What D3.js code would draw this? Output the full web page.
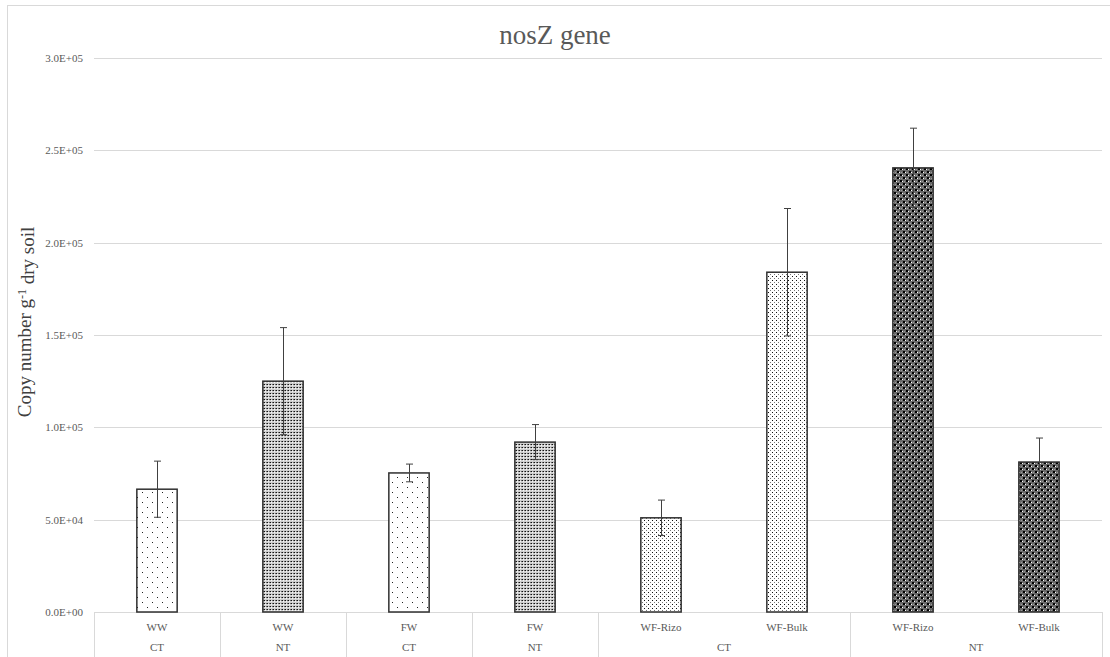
<!DOCTYPE html>
<html>
<head>
<meta charset="utf-8">
<script src="https://cdn.jsdelivr.net/npm/d3@7"></script>
<style>
  body { margin: 0; background: #fff; }
  text { font-family: "Liberation Serif", "Times New Roman", Tinos, "DejaVu Serif", serif; }
</style>
</head>
<body>
<svg id="chart" width="1110" height="657"></svg>
<script>
// data
const crops = ["WW", "WW", "FW", "FW", "WF-Rizo", "WF-Bulk", "WF-Rizo", "WF-Bulk"];
const tillage = ["CT", "NT", "CT", "NT", "CT", "CT", "NT", "NT"];
const means = [66500, 125000, 75300, 92000, 51000, 184000, 240500, 81200];
const errors = [15200, 29000, 4800, 9500, 9600, 34500, 21500, 13000];
const fills = ["dotsSparse", "dense", "dotsSparse", "dense", "dotsFine", "dotsFine", "dark", "dark"];
const yTicks = [0, 50000, 100000, 150000, 200000, 250000, 300000];
const groups = [
  { label: "CT", from: 0, to: 0 },
  { label: "NT", from: 1, to: 1 },
  { label: "CT", from: 2, to: 2 },
  { label: "NT", from: 3, to: 3 },
  { label: "CT", from: 4, to: 5 },
  { label: "NT", from: 6, to: 7 }
];

const FONT = '"Liberation Serif", "Times New Roman", Tinos, "DejaVu Serif", serif';
const svg = d3.select("#chart");
const margin = { left: 94, right: 1102, top: 58, bottom: 612 };

// chart frame
svg.append("rect")
  .attr("x", 7.5).attr("y", 5.5)
  .attr("width", 1110).attr("height", 660)
  .attr("fill", "#fff")
  .attr("stroke", "#d9d9d9");

// fill patterns
const defs = svg.append("defs");

function pattern(id, size, bg, pts) {
  const p = defs.append("pattern")
    .attr("id", id)
    .attr("patternUnits", "userSpaceOnUse")
    .attr("width", size).attr("height", size);
  p.append("rect").attr("width", size).attr("height", size).attr("fill", bg);
  pts.forEach(d => {
    p.append("rect")
      .attr("x", d[0]).attr("y", d[1])
      .attr("width", d[3] || 1).attr("height", d[4] || 1)
      .attr("fill", d[2]);
  });
}

pattern("dotsSparse", 10, "#fff", [[2, 2, "#222"], [7, 7, "#222"]]);
pattern("dotsFine", 4, "#fff", [[0, 0, "#111"], [2, 2, "#777"]]);
pattern("dense", 3, "#cfcfcf", [[0, 0, "#111"], [1, 1, "#f6f6f6"], [2, 0, "#666"]]);
pattern("dark", 6, "#6a6a6a", [
  [0, 0, "#000", 2, 2], [3, 3, "#000", 2, 2],
  [2, 1, "#fff"], [5, 4, "#fff"], [1, 4, "#999"], [4, 1, "#999"]
]);

const x = d3.scaleBand()
  .domain(d3.range(crops.length))
  .range([margin.left, margin.right])
  .paddingInner(0)
  .paddingOuter(0);

const y = d3.scaleLinear()
  .domain([0, 300000])
  .range([margin.bottom, margin.top]);

// gridlines
svg.append("g")
  .selectAll("line")
  .data(yTicks)
  .join("line")
  .attr("x1", margin.left).attr("x2", margin.right)
  .attr("y1", d => Math.round(y(d)) + 0.5)
  .attr("y2", d => Math.round(y(d)) + 0.5)
  .attr("stroke", "#d9d9d9")
  .attr("stroke-width", 1);

// y tick labels
const fmt = v => {
  if (v === 0) return "0.0E+00";
  const e = Math.floor(Math.log10(v));
  return (v / Math.pow(10, e)).toFixed(1) + "E+" + String(e).padStart(2, "0");
};
svg.append("g")
  .selectAll("text")
  .data(yTicks)
  .join("text")
  .attr("x", 83)
  .attr("y", d => y(d))
  .attr("dy", "0.35em")
  .attr("text-anchor", "end")
  .attr("fill", "#595959")
  .style("font-family", FONT)
  .style("font-size", "11px")
  .text(fmt);

// bars
const bw = x.bandwidth() * 0.32;
svg.append("g")
  .selectAll("rect")
  .data(means)
  .join("rect")
  .attr("x", (d, i) => x(i) + (x.bandwidth() - bw) / 2)
  .attr("y", d => y(d))
  .attr("width", bw)
  .attr("height", d => y(0) - y(d))
  .attr("fill", (d, i) => `url(#${fills[i]})`)
  .attr("stroke", "#303030")
  .attr("stroke-width", 1.5);

// error bars
const eb = svg.append("g").attr("stroke", "#404040").attr("stroke-width", 1);
means.forEach((m, i) => {
  const cx = Math.round(x(i) + x.bandwidth() / 2) + 0.5;
  const hi = y(m + errors[i]);
  const lo = y(m - errors[i]);
  eb.append("line").attr("x1", cx).attr("x2", cx).attr("y1", hi).attr("y2", lo);
  eb.append("line").attr("x1", cx - 3.5).attr("x2", cx + 3.5).attr("y1", hi).attr("y2", hi);
  eb.append("line").attr("x1", cx - 3.5).attr("x2", cx + 3.5).attr("y1", lo).attr("y2", lo);
});

// category axis (two levels)
const axis = svg.append("g");
const boundaries = [0].concat(groups.map(g => g.to + 1));
axis.selectAll("line.div")
  .data(boundaries)
  .join("line")
  .attr("class", "div")
  .attr("x1", d => Math.round(d < crops.length ? x(d) : margin.right) + 0.5)
  .attr("x2", d => Math.round(d < crops.length ? x(d) : margin.right) + 0.5)
  .attr("y1", margin.bottom)
  .attr("y2", 657)
  .attr("stroke", "#d9d9d9");

axis.selectAll("text.crop")
  .data(crops)
  .join("text")
  .attr("class", "crop")
  .attr("x", (d, i) => x(i) + x.bandwidth() / 2)
  .attr("y", 627)
  .attr("dy", "0.35em")
  .attr("text-anchor", "middle")
  .attr("fill", "#595959")
  .style("font-family", FONT)
  .style("font-size", "11px")
  .text(d => d);

axis.selectAll("text.grp")
  .data(groups)
  .join("text")
  .attr("class", "grp")
  .attr("x", d => (x(d.from) + x(d.to) + x.bandwidth()) / 2)
  .attr("y", 647)
  .attr("dy", "0.35em")
  .attr("text-anchor", "middle")
  .attr("fill", "#595959")
  .style("font-family", FONT)
  .style("font-size", "11px")
  .text(d => d.label);

// title
svg.append("text")
  .attr("x", 555)
  .attr("y", 35)
  .attr("dy", "0.35em")
  .attr("text-anchor", "middle")
  .attr("fill", "#595959")
  .style("font-family", FONT)
  .style("font-size", "27px")
  .text("nosZ gene");

// y axis title
const yt = svg.append("text")
  .attr("transform", "translate(31,322) rotate(-90)")
  .attr("text-anchor", "middle")
  .attr("fill", "#404040")
  .style("font-family", FONT)
  .style("font-size", "19px");
yt.append("tspan").text("Copy number g");
yt.append("tspan").attr("dy", "-0.45em").style("font-size", "12px").text("-1");
yt.append("tspan").attr("dy", "0.45em").text(" dry soil");
</script>
</body>
</html>
